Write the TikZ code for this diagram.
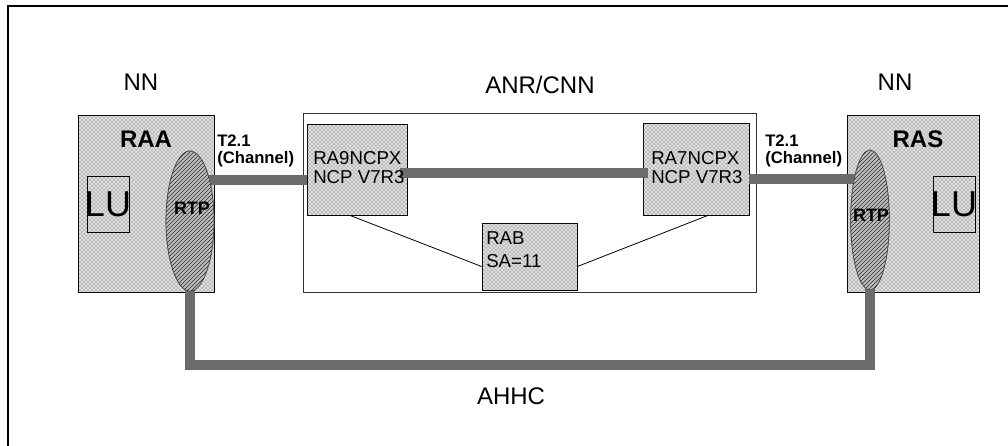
\documentclass[tikz,border=0pt]{standalone}
\usepackage{fontspec}
\setmainfont{Liberation Sans}
\usetikzlibrary{fit,shapes.geometric,patterns,calc}
\begin{document}
\begin{tikzpicture}[x=0.75pt,y=-0.75pt,
  stipple/.style={draw=black,line width=0.6pt,fill=gray!24,inner sep=0pt,
    postaction={pattern=crosshatch dots,pattern color=black!75}},
  plain/.style={draw=black!80,line width=0.6pt,inner sep=0pt},
  rtp/.style={ellipse,draw=black!70,line width=0.5pt,fill=gray!50,inner sep=0pt,
    postaction={pattern=north east lines,pattern color=black!85}},
  band/.style={draw=black!58,line width=7.5pt},
  link/.style={draw=black,line width=0.6pt},
  title/.style={font=\fontsize{18}{20}\selectfont},
  sysname/.style={font=\fontsize{18}{20}\selectfont\bfseries},
  lu/.style={font=\fontsize{27}{30}\selectfont},
  rtptext/.style={font=\fontsize{13.5}{14}\selectfont\bfseries,text=black},
  ncp/.style={align=left,font=\fontsize{14}{14.5}\selectfont,inner sep=0pt},
  chan/.style={align=left,font=\fontsize{12.5}{12.5}\selectfont\bfseries,inner sep=0pt},
]
\useasboundingbox (0,0) rectangle (1008,446);

% outer frame (left and top edges only)
\draw[line width=1.6pt] (8,446) -- (8,6) -- (1008,6);

% node and network containers
\node[stipple, fit={(78,115) (214,292)}] (raa) {};
\node[stipple, fit={(847,115) (979,292)}] (ras) {};
\node[plain, fit={(303,113) (756,292)}] (anr) {};

% communication controllers and the RAB host
\node[stipple, fit={(307,124) (407,215)}] (ra9) {};
\node[stipple, fit={(643,123) (749,215)}] (ra7) {};
\node[stipple, fit={(482,223) (577,290)}] (rab) {};

% logical units
\node[stipple, fit={(87,176) (129,232)}] (lul) {};
\node[lu] at (lul.center) {LU};
\node[stipple, fit={(933,176) (975,232)}] (lur) {};
\node[lu] at (lur.center) {LU};

% subarea links to RAB
\draw[link] ($(ra9.south)+(-7,0)$) -- ($(rab.west)+(0,10)$);
\draw[link] ($(rab.east)+(0,10)$) -- ($(ra7.south)+(12,0)$);

% RTP endpoints (placed first as anchors for the bands)
\path (190,221) node[rtp, minimum width=36pt, minimum height=105pt] (rtpl) {};
\path (870,220) node[rtp, minimum width=29pt, minimum height=105pt] (rtpr) {};

% hatched transmission groups and the HPR connection
\coordinate (pL) at (200,180);
\coordinate (pR) at (862,179);
\coordinate (hb) at (0,365);
\draw[band] (pL) -- (pL -| ra9.west);
\draw[band] ($(ra9.east)+(-7,3.5)$) -- ($(ra7.west)+(5,4)$);
\draw[band] (pR -| ra7.east) -- (pR);
\draw[band] ($(rtpl.south)+(0,-8)$) -- (rtpl.south |- hb) -- (rtpr.south |- hb) -- ($(rtpr.south)+(0,-8)$);

% redraw RTP ellipses on top of the bands
\path (190,221) node[rtp, minimum width=36pt, minimum height=105pt] {};
\path (870,220) node[rtp, minimum width=29pt, minimum height=105pt] {};
\node[rtptext] (rtplt) at (192,208) {RTP};
\node[rtptext] (rtprt) at (871,215) {RTP};

% labels
\node[title] (nnl) at (141,82) {NN};
\node[title] (anrt) at (540,85) {ANR/CNN};
\node[title] (nnr) at (895,82) {NN};
\node[sysname] (raat) at (146,139) {RAA};
\node[sysname] (rast) at (918,139) {RAS};
\node[chan, anchor=north west] (chl) at (217,135) {T2.1\\(Channel)};
\node[chan, anchor=north west] (chr) at (765,135) {T2.1\\(Channel)};
\node[ncp, anchor=north west] (ra9t) at (313,151) {RA9NCPX\\NCP V7R3};
\node[ncp, anchor=north west] (ra7t) at (651,151) {RA7NCPX\\NCP V7R3};
\node[ncp, anchor=north west] (rabt) at (486,231) {RAB\\[3pt]SA=11};
\node[title] (ahhc) at (511,396) {AHHC};
\end{tikzpicture}
\end{document}
